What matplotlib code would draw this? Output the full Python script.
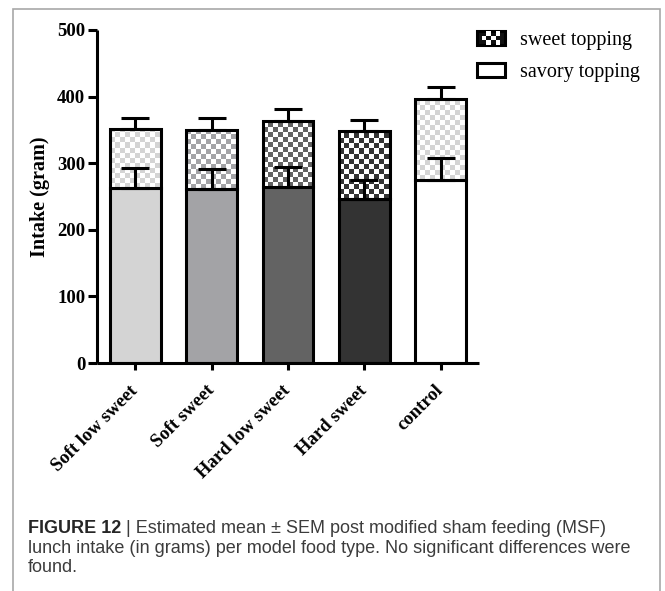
import numpy as np
import matplotlib
matplotlib.use('Agg')
import matplotlib.pyplot as plt
from matplotlib.colors import ListedColormap
from matplotlib.patches import Rectangle, Patch
from matplotlib.legend_handler import HandlerBase

categories = ['Soft low sweet', 'Soft sweet', 'Hard low sweet', 'Hard sweet', 'control']
savory = [262.5, 262, 264, 245.5, 275]
savory_sem = [30, 30, 30, 29.5, 33.5]
sweet = [89, 88, 100, 102.5, 121]
total_sem = [17, 17.5, 17, 17.5, 19]
yticks = [0, 100, 200, 300, 400, 500]

base_colors = ['#d4d4d4', '#a3a3a6', '#636363', '#333333', '#ffffff']
check_colors = ['#d4d4d4', '#a3a3a6', '#636363', '#333333', '#d4d4d4']

SERIF = 'Liberation Serif'
LW = 2.2

W, H = 665, 591
fig = plt.figure(figsize=(W / 100, H / 100), dpi=100)
ax = fig.add_axes([97 / W, 228 / H, 382 / W, 333 / H])

x = np.arange(len(categories))
width = 0.667
ax.set_xlim(-0.5, 4.5)
ax.set_ylim(0, 500)

lower = ax.bar(x, savory, width, color=base_colors, edgecolor='black', linewidth=LW, zorder=2)
upper = ax.bar(x, sweet, width, bottom=savory, fill=False, edgecolor='black', linewidth=LW, zorder=3)

# checkerboard texture for the sweet part, clipped to each bar
cell = 5.0
px_x = ax.transData.transform((1, 0))[0] - ax.transData.transform((0, 0))[0]
px_y = ax.transData.transform((0, 1))[1] - ax.transData.transform((0, 0))[1]
for patch, col in zip(upper.patches, check_colors):
    bx, by = patch.get_x(), patch.get_y()
    bw, bh = patch.get_width(), patch.get_height()
    ncol = int(np.ceil(bw * px_x / cell))
    nrow = int(np.ceil(bh * px_y / cell))
    ii, jj = np.indices((nrow, ncol))
    board = (ii + jj) % 2
    im = ax.imshow(board, cmap=ListedColormap(['white', col]), origin='lower',
                   extent=(bx, bx + ncol * cell / px_x, by, by + nrow * cell / px_y),
                   aspect='auto', interpolation='nearest', zorder=2.5)
    im.set_clip_path(patch)

totals = [a + b for a, b in zip(savory, sweet)]
zeros = [0] * len(x)
ax.errorbar(x, savory, yerr=[zeros, savory_sem], fmt='none', ecolor='black',
            elinewidth=LW, capsize=10, capthick=LW, zorder=4)
ax.errorbar(x, totals, yerr=[zeros, total_sem], fmt='none', ecolor='black',
            elinewidth=LW, capsize=10, capthick=LW, zorder=4)

ax.set_xlim(-0.5, 4.5)
ax.set_ylim(0, 500)

for s in ['top', 'right']:
    ax.spines[s].set_visible(False)
for s in ['left', 'bottom']:
    ax.spines[s].set_linewidth(LW)
    ax.spines[s].set_capstyle('butt')

ax.set_yticks(yticks)
ax.set_yticklabels([str(v) for v in yticks], fontfamily=SERIF, fontweight='bold', fontsize=13.5)
ax.tick_params(axis='y', length=6.5, width=LW, pad=2)
ax.set_xticks(x)
ax.set_xticklabels(categories, fontfamily=SERIF, fontweight='bold', fontsize=13.5,
                   rotation=45, ha='right', va='center', rotation_mode='anchor')
ax.tick_params(axis='x', length=5, width=LW, pad=13)
ax.set_ylabel('Intake (gram)', fontfamily=SERIF, fontweight='bold', fontsize=14.5, labelpad=5)


class CheckerHandler(HandlerBase):
    def create_artists(self, legend, orig_handle, xdescent, ydescent, width, height, fontsize, trans):
        x0, y0 = -xdescent, -ydescent
        arts = [Rectangle((x0, y0), width, height, facecolor='#111111', edgecolor='black',
                          linewidth=LW, transform=trans)]
        nx, ny = 6, 3
        cw, ch = width / nx, height / ny
        for i in range(nx):
            for j in range(ny):
                if (i + j) % 2 == 0 and 0 < i < nx - 1:
                    arts.append(Rectangle((x0 + i * cw, y0 + j * ch), cw, ch, facecolor='white',
                                          edgecolor='none', transform=trans))
        return arts


h_sweet = Patch(facecolor='black')
h_savory = Patch(facecolor='white', edgecolor='black', linewidth=LW)
fig.legend([h_sweet, h_savory], ['sweet topping', 'savory topping'],
           handler_map={h_sweet: CheckerHandler()},
           loc='upper left', bbox_to_anchor=(477 / W, 1 - 31 / H), frameon=False,
           prop={'family': SERIF, 'size': 14.5}, borderpad=0, borderaxespad=0,
           handlelength=1.4, handleheight=0.7, handletextpad=0.75, labelspacing=0.62)

# caption under the chart
cap_font = 'Liberation Sans'
cap_size = 13.0
cap_color = '#3c3c3c'
renderer = fig.canvas.get_renderer()
t1 = fig.text(28 / W, 1 - 533 / H, 'FIGURE 12', fontfamily=cap_font, fontweight='bold',
              fontsize=cap_size, color='#262626', va='baseline')
bb = t1.get_window_extent(renderer)
fig.text(bb.x1 / W, 1 - 533 / H, ' | Estimated mean \u00b1 SEM post modified sham feeding (MSF)',
         fontfamily=cap_font, fontsize=cap_size, color=cap_color, va='baseline')
fig.text(28 / W, 1 - 553 / H, 'lunch intake (in grams) per model food type. No significant differences were',
         fontfamily=cap_font, fontsize=cap_size, color=cap_color, va='baseline')
fig.text(28 / W, 1 - 572 / H, 'found.', fontfamily=cap_font, fontsize=cap_size,
         color=cap_color, va='baseline')

fig.add_artist(Rectangle((13 / W, -0.1), (660 - 13) / W, 0.1 + (H - 9) / H,
                         transform=fig.transFigure, fill=False, edgecolor='#a8a8a8', linewidth=1.2))

fig.savefig('out.png', dpi=100)
